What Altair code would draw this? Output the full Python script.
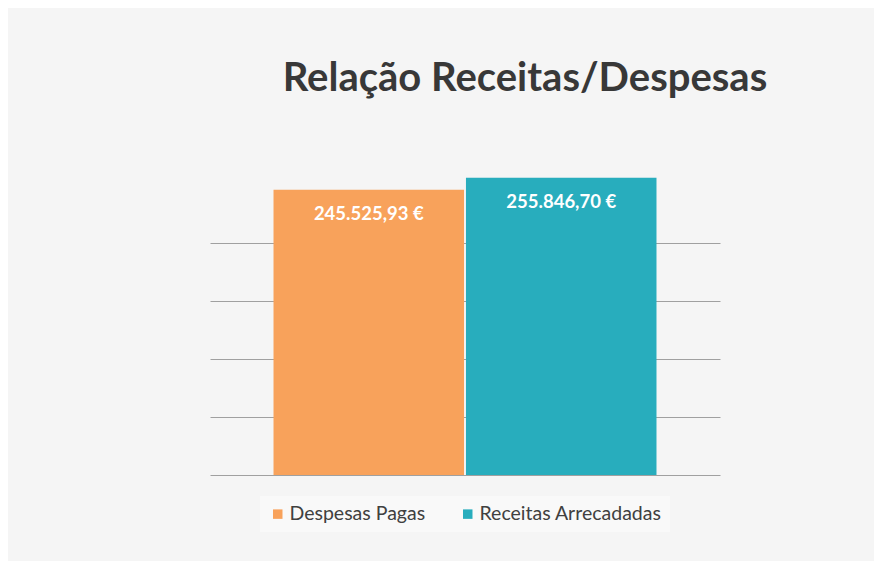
import altair as alt
import pandas as pd

categories = ["Despesas Pagas", "Receitas Arrecadadas"]
values = [245525.93, 255846.70]
labels = ["245.525,93 €", "255.846,70 €"]
colors = ["#f8a25b", "#28adbd"]
grid_values = [0, 50000, 100000, 150000, 200000]

df = pd.DataFrame({"cat": categories, "val": values, "lab": labels})

x = alt.X("cat:N", sort=categories, axis=None,
          scale=alt.Scale(paddingInner=0.01, paddingOuter=0.33))
y = alt.Y("val:Q", scale=alt.Scale(domain=[0, 260000], nice=False, zero=True),
          axis=alt.Axis(values=grid_values, labels=False, ticks=False, domain=False,
                        grid=True, gridColor="#a0a0a0", gridWidth=1, title=None))

bars = alt.Chart(df).mark_bar().encode(
    x=x, y=y,
    color=alt.Color("cat:N", sort=categories,
                    scale=alt.Scale(domain=categories, range=colors),
                    legend=alt.Legend(title=None, orient="none", direction="horizontal",
                                      legendX=50, legendY=323, symbolType="square",
                                      symbolSize=90, symbolStrokeWidth=0,
                                      labelFont="Lato", labelFontSize=19.5, labelLimit=400,
                                      labelOffset=2,
                                      labelColor="#404040", columnPadding=32,
                                      fillColor="#f9f9f9", padding=8))
)

text = alt.Chart(df).mark_text(dy=24, baseline="middle", color="white",
                               font="Lato", fontWeight="bold", fontSize=18.5).encode(
    x=alt.X("cat:N", sort=categories, axis=None), y=alt.Y("val:Q"), text="lab:N"
)

chart = (bars + text).properties(
    width=510, height=302,
    autosize=alt.AutoSizeParams(type="none"),
    padding={"left": 202, "top": 165, "right": 154, "bottom": 86},
    background="#f5f5f5",
    title=alt.TitleParams("Relação Receitas/Despesas", font="Lato", fontSize=40,
                          fontWeight="bold", color="#383838", anchor="middle",
                          dx=60, offset=74),
).configure_view(stroke=None)

chart.save("out.html", embed_options={"renderer": "svg", "actions": False})
